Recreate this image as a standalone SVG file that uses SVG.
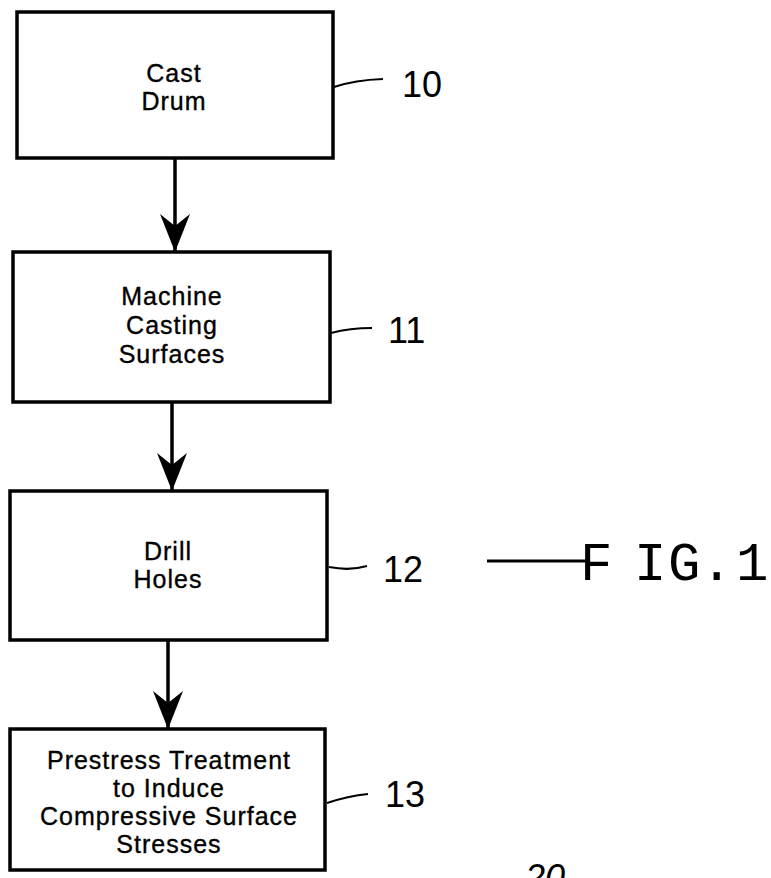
<svg xmlns="http://www.w3.org/2000/svg" width="771" height="878" viewBox="0 0 771 878">
<defs>
<style>
.box{fill:#fff;stroke:#000;stroke-width:3.5}
.lbl{font-family:"Liberation Sans",Arial,sans-serif;font-size:25px;letter-spacing:1px;text-anchor:middle;fill:#000;stroke:#000;stroke-width:0.35}
.ref{font-family:"Liberation Sans",Arial,sans-serif;font-size:36px;fill:#000}
.lead{stroke:#000;stroke-width:2.2;fill:none}
.conn{stroke:#000;stroke-width:3.5;fill:none}
</style>
<marker id="ah" markerUnits="userSpaceOnUse" markerWidth="42" markerHeight="32" refX="40" refY="16" orient="auto" viewBox="0 0 42 32">
<path d="M2,1 L40,16 L2,31 L14,16 Z" fill="#000"/>
</marker>
</defs>
<rect width="771" height="878" fill="#fff"/>
<g id="connectors">
<line class="conn" x1="175" y1="159" x2="175" y2="252" marker-end="url(#ah)"/>
<line class="conn" x1="172" y1="403" x2="172" y2="491" marker-end="url(#ah)"/>
<line class="conn" x1="168" y1="641" x2="168" y2="729" marker-end="url(#ah)"/>
</g>
<g id="n10">
<rect class="box" x="17" y="12" width="316" height="146"/>
<text class="lbl" x="174" y="82">Cast</text>
<text class="lbl" x="174" y="110">Drum</text>
<path class="lead" d="M334,87 Q355,80 383,79"/>
<text class="ref" x="402" y="97">10</text>
</g>
<g id="n11">
<rect class="box" x="13" y="252" width="317" height="150"/>
<text class="lbl" x="172" y="305">Machine</text>
<text class="lbl" x="172" y="334">Casting</text>
<text class="lbl" x="172" y="363">Surfaces</text>
<path class="lead" d="M331,333 Q350,328 372,328"/>
<text class="ref" x="388" y="343">11</text>
</g>
<g id="n12">
<rect class="box" x="10" y="491" width="317" height="149"/>
<text class="lbl" x="168" y="560">Drill</text>
<text class="lbl" x="168" y="588">Holes</text>
<path class="lead" d="M329,567 Q350,571 367,566"/>
<text class="ref" x="383" y="582">12</text>
</g>
<g id="n13">
<rect class="box" x="10" y="729" width="315" height="141"/>
<text class="lbl" x="169" y="769">Prestress Treatment</text>
<text class="lbl" x="169" y="797">to Induce</text>
<text class="lbl" x="169" y="825">Compressive Surface</text>
<text class="lbl" x="169" y="853">Stresses</text>
<path class="lead" d="M327,803 Q348,796 368,794"/>
<text class="ref" x="385" y="807">13</text>
</g>
<g id="fig">
<line x1="487" y1="561" x2="590" y2="561" stroke="#000" stroke-width="3"/>
<text font-family="'Liberation Mono','Courier New',monospace" font-size="54" fill="#000" y="580"><tspan x="580">F</tspan><tspan x="634">I</tspan><tspan x="668">G.</tspan><tspan x="736">1</tspan></text>
</g>
<text class="ref" x="525" y="890" font-style="italic" font-size="40">20</text>
</svg>
